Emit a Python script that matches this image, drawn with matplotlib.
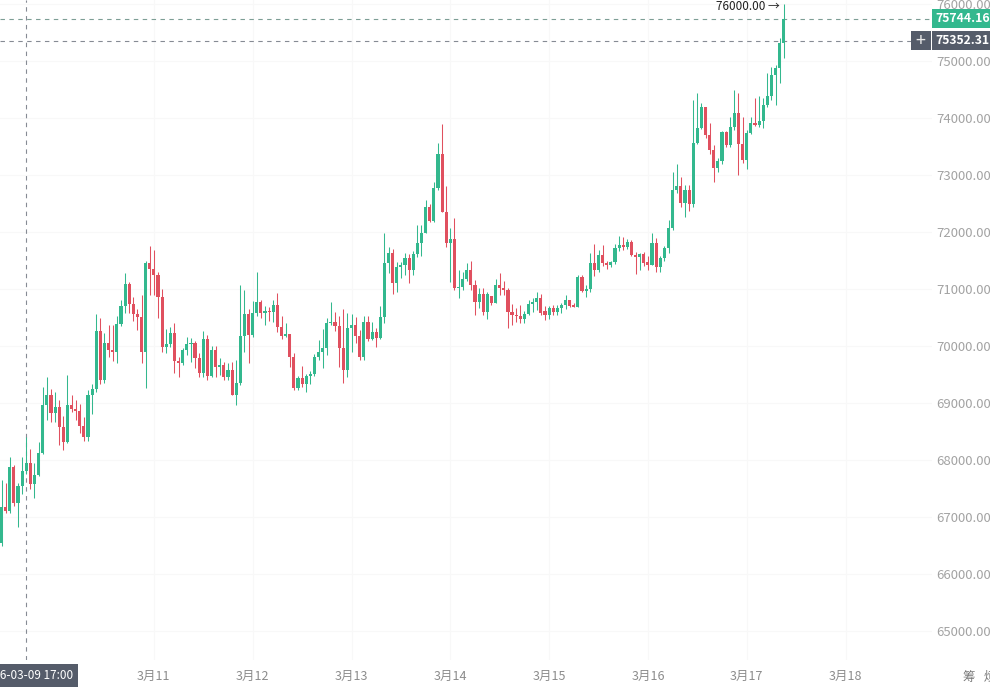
import numpy as np
import matplotlib.pyplot as plt
from matplotlib.patches import Rectangle
from matplotlib.transforms import blended_transform_factory

plt.rcParams['font.family'] = ['Noto Sans CJK SC', 'DejaVu Sans']

# hourly candles, first one is 3月9日 11:00
opens = [66550, 67180, 67110, 67880, 67250, 67550, 67800, 67950, 67580, 67740,
         68120, 68960, 69140, 68820, 68930, 68580, 68320, 68960, 68900, 68860,
         68600, 68400, 69140, 69250, 70270, 69400, 70050, 69930, 69890, 70390,
         70700, 71090, 70740, 70560, 70510, 69900, 71460, 71350, 71250, 70860,
         69980, 70040, 70230, 69740, 69700, 69930, 70040, 70060, 69790, 69530,
         70120, 69470, 69930, 69630, 69660, 69460, 69580, 69140, 69350, 70180,
         70560, 70190, 70580, 70770, 70580, 70620, 70600, 70720, 70340, 70180,
         70210, 69810, 69260, 69440, 69340, 69480, 69510, 69810, 69900, 69970,
         70400, 70430, 70360, 69970, 69580, 70320, 70370, 70180, 69810, 70420,
         70120, 70250, 70140, 70510, 71460, 71630, 71110, 71390, 71420, 71540,
         71330, 71610, 71810, 71980, 72440, 72190, 72770, 73370, 72350, 71810,
         71880, 71020, 71040, 71180, 71330, 71070, 70770, 70910, 70600, 70880,
         70760, 71070, 71020, 70980, 70600, 70550, 70520, 70480, 70560, 70740,
         70770, 70840, 70620, 70550, 70670, 70590, 70670, 70720, 70810, 70720,
         70690, 71210, 70970, 71000, 71460, 71330, 71600, 71460, 71420, 71470,
         71720, 71780, 71740, 71830, 71600, 71560, 71610, 71470, 71420, 71810,
         71390, 71540, 71720, 72070, 72740, 72810, 72510, 72740, 72490, 73560,
         73830, 74190, 73700, 73440, 73120, 73250, 73750, 73530, 73840, 74090,
         73540, 73260, 73740, 73910, 73870, 73950, 74230, 74390, 74750, 74880,
         75320]
highs = [67650, 67600, 68050, 67920, 67600, 68050, 68400, 68200, 67950, 68320,
         69280, 69460, 69250, 69200, 69050, 68780, 69490, 69150, 69050, 68980,
         68750, 69230, 69340, 70560, 70500, 70230, 70370, 70370, 70520, 70810,
         71280, 71120, 70860, 70650, 70900, 71490, 71750, 71680, 71300, 71000,
         70300, 70330, 70400, 69800, 69970, 70160, 70140, 70080, 69880, 70260,
         70190, 70000, 70000, 69790, 69720, 69700, 69720, 69750, 71070, 70980,
         70650, 70790, 71300, 70800, 70700, 70690, 70800, 70930, 70520, 70400,
         70210, 69880, 69480, 69650, 69510, 69560, 69860, 70100, 70300, 70490,
         70770, 70600, 70530, 70650, 70580, 70560, 70510, 70280, 70530, 70530,
         70420, 70320, 70700, 71980, 71740, 71700, 71480, 71480, 71640, 71620,
         71670, 72120, 72120, 72560, 72500, 72880, 73560, 73900, 72810, 72070,
         72250, 71330, 71300, 71460, 71500, 71160, 71020, 71020, 70950, 70880,
         71180, 71280, 71140, 71020, 70740, 70670, 70720, 70610, 70810, 70850,
         70950, 70910, 70700, 70700, 70720, 70720, 70760, 70890, 70810, 70760,
         71250, 71250, 71070, 71630, 71790, 71680, 71780, 71500, 71500, 71790,
         71930, 71920, 71880, 71860, 71650, 71640, 71650, 71580, 71980, 71900,
         71580, 71750, 72210, 73050, 73190, 72970, 72830, 72830, 74320, 74440,
         74260, 74200, 73910, 73530, 73300, 73770, 73770, 74020, 74490, 74440,
         74020, 73790, 74020, 74350, 74380, 74350, 74790, 74900, 74930, 75400,
         76000]
lows = [66500, 67070, 67080, 67200, 66830, 67400, 67750, 67500, 67330, 67720,
        68100, 68700, 68670, 68670, 68270, 68180, 68300, 68850, 68700, 68480,
        68330, 68330, 68800, 69200, 69330, 69360, 69800, 69730, 69700, 70350,
        70580, 70580, 70440, 70280, 69700, 69260, 70900, 70900, 70500, 69900,
        69880, 69990, 69530, 69450, 69670, 69840, 69720, 69610, 69460, 69460,
        69400, 69460, 69460, 69490, 69400, 69400, 69140, 68970, 69320, 69900,
        69700, 70160, 70530, 70500, 70370, 70440, 70430, 70250, 70130, 70150,
        69640, 69230, 69230, 69280, 69200, 69330, 69470, 69750, 69620, 69840,
        70370, 70260, 69630, 69350, 69460, 69900, 70050, 69760, 69760, 70090,
        70100, 69990, 70120, 70400, 71280, 70910, 70950, 71200, 71240, 71110,
        71240, 71560, 71580, 71980, 72170, 72170, 72740, 72350, 71740, 71120,
        70980, 70840, 70980, 71140, 70980, 70550, 70670, 70550, 70470, 70720,
        70750, 70900, 70900, 70320, 70370, 70420, 70400, 70410, 70540, 70600,
        70630, 70540, 70460, 70480, 70540, 70540, 70580, 70650, 70680, 70680,
        70680, 70950, 70860, 70950, 71230, 71300, 71400, 71350, 71380, 71440,
        71670, 71690, 71700, 71580, 71260, 71340, 71400, 71330, 71420, 71300,
        71300, 71500, 71630, 72040, 72690, 72440, 72260, 72370, 72440, 73540,
        73800, 73650, 73370, 72880, 73060, 73200, 73500, 73490, 73790, 73000,
        73210, 73110, 73720, 73860, 73850, 73830, 74190, 74320, 74230, 74610,
        75050]
closes = [67180, 67110, 67880, 67250, 67550, 67800, 67950, 67580, 67740, 68120,
          68960, 69140, 68820, 68930, 68580, 68320, 68960, 68900, 68860, 68600,
          68400, 69140, 69250, 70270, 69400, 70050, 69930, 69890, 70390, 70700,
          71090, 70740, 70560, 70510, 69900, 71460, 71350, 71250, 70860, 69980,
          70040, 70230, 69740, 69700, 69930, 70040, 70060, 69790, 69530, 70120,
          69470, 69930, 69630, 69660, 69460, 69580, 69140, 69350, 70180, 70560,
          70190, 70580, 70770, 70580, 70620, 70600, 70720, 70340, 70180, 70210,
          69810, 69260, 69440, 69340, 69480, 69510, 69810, 69900, 69970, 70400,
          70430, 70360, 69970, 69580, 70320, 70370, 70180, 69810, 70420, 70120,
          70250, 70140, 70510, 71460, 71630, 71110, 71390, 71420, 71540, 71330,
          71610, 71810, 71980, 72440, 72190, 72770, 73370, 72350, 71810, 71880,
          71020, 71040, 71180, 71330, 71070, 70770, 70910, 70600, 70910, 70760,
          71070, 71020, 70980, 70600, 70540, 70520, 70480, 70560, 70740, 70770,
          70840, 70580, 70550, 70670, 70590, 70670, 70720, 70810, 70700, 70690,
          71210, 70970, 71000, 71460, 71330, 71600, 71460, 71420, 71470, 71720,
          71780, 71740, 71830, 71600, 71560, 71610, 71460, 71420, 71810, 71390,
          71540, 71720, 72070, 72740, 72810, 72510, 72740, 72490, 73560, 73830,
          74190, 73700, 73440, 73120, 73250, 73750, 73530, 73840, 74090, 73540,
          73260, 73740, 73910, 73870, 73950, 74230, 74390, 74750, 74880, 75320,
          75744.16]

start_hour = 11
day_labels = ['3月11', '3月12', '3月13', '3月14', '3月15', '3月16', '3月17', '3月18']
price_ticks = [65000, 66000, 67000, 68000, 69000, 70000, 71000, 72000, 73000, 74000, 75000, 76000]
last_price = 75744.16
cross_price = 75352.31
cross_hour = 17
cross_label = '2026-03-09 17:00'
peak_label = '76000.00 →'

green = '#33b88e'
red = '#e0505f'
box_gray = '#555c6a'

o = np.array(opens, dtype=float)
h = np.array(highs, dtype=float)
l = np.array(lows, dtype=float)
c = np.array(closes, dtype=float)
t = start_hour + np.arange(len(c))
up = c >= o
cols = np.where(up, green, red)

fig = plt.figure(figsize=(9.9, 6.88), dpi=100)
ax = fig.add_axes([0, 0.0407, 0.9414, 0.9593])

ax.vlines(t, l, h, colors=cols, lw=0.75, zorder=2)
body_lo = np.minimum(o, c)
body_h = np.maximum(np.abs(c - o), 18)
ax.bar(t, body_h, bottom=body_lo, width=0.76, color=cols, lw=0, zorder=3)

ax.set_xlim(10.62, 237.0)
ax.set_ylim(64493, 76070)

ax.set_xticks([48 + 24 * k for k in range(len(day_labels))])
ax.set_xticklabels(day_labels)
ax.set_yticks(price_ticks)
ax.set_yticklabels(['%.2f' % p for p in price_ticks])
ax.yaxis.tick_right()
ax.tick_params(axis='y', length=0, pad=3, labelcolor='#a3a3a3', labelsize=9.5)
ax.tick_params(axis='x', length=0, pad=7, labelcolor='#8c8c8c', labelsize=9)
for s in ax.spines.values():
    s.set_visible(False)
ax.grid(True, color='#f8f8f8', lw=0.8)
ax.set_axisbelow(True)

# price lines and crosshair
ax.axhline(last_price, color='#7d9e95', ls=(0, (4, 4)), lw=0.8, zorder=1)
ax.axhline(cross_price, color='#868b94', ls=(0, (4, 4)), lw=0.8, zorder=1)
ax.axvline(cross_hour, color='#868b94', ls=(0, (4, 4)), lw=0.8, zorder=1)

tr = blended_transform_factory(ax.transAxes, ax.transData)
ax.add_patch(Rectangle((1.0, last_price - 160), 0.07, 320, transform=tr,
                       fc=green, ec='none', clip_on=False))
ax.text(1.004, last_price, '%.2f' % last_price, transform=tr, color='white',
        fontsize=8.8, fontweight='bold', va='center', ha='left', clip_on=False)
ax.add_patch(Rectangle((1.0, cross_price - 168), 0.07, 336, transform=tr,
                       fc=box_gray, ec='none', clip_on=False))
ax.add_patch(Rectangle((0.9775, cross_price - 168), 0.0215, 336, transform=tr,
                       fc=box_gray, ec='none', clip_on=False))
ax.text(1.004, cross_price, '%.2f' % cross_price, transform=tr, color='white',
        fontsize=8.8, fontweight='bold', va='center', ha='left', clip_on=False)
ax.text(0.988, cross_price, '+', transform=tr, color='#e8e8e8', fontsize=13,
        va='center', ha='center', clip_on=False)

trx = blended_transform_factory(ax.transData, ax.transAxes)
ax.text(cross_hour, -0.0235, cross_label, transform=trx, color='white', fontsize=8.5,
        ha='center', va='center', clip_on=False,
        bbox=dict(boxstyle='square,pad=0.4', fc=box_gray, ec='none'))

ax.text(t[-1] - 0.9, 75950, peak_label, color='#222222', fontsize=8.5,
        ha='right', va='center', clip_on=False)

fig.text(963 / 990, 11 / 688, '筹   烦', color='#7a7a7a', fontsize=9, va='center')

fig.savefig('out.png', dpi=100)
